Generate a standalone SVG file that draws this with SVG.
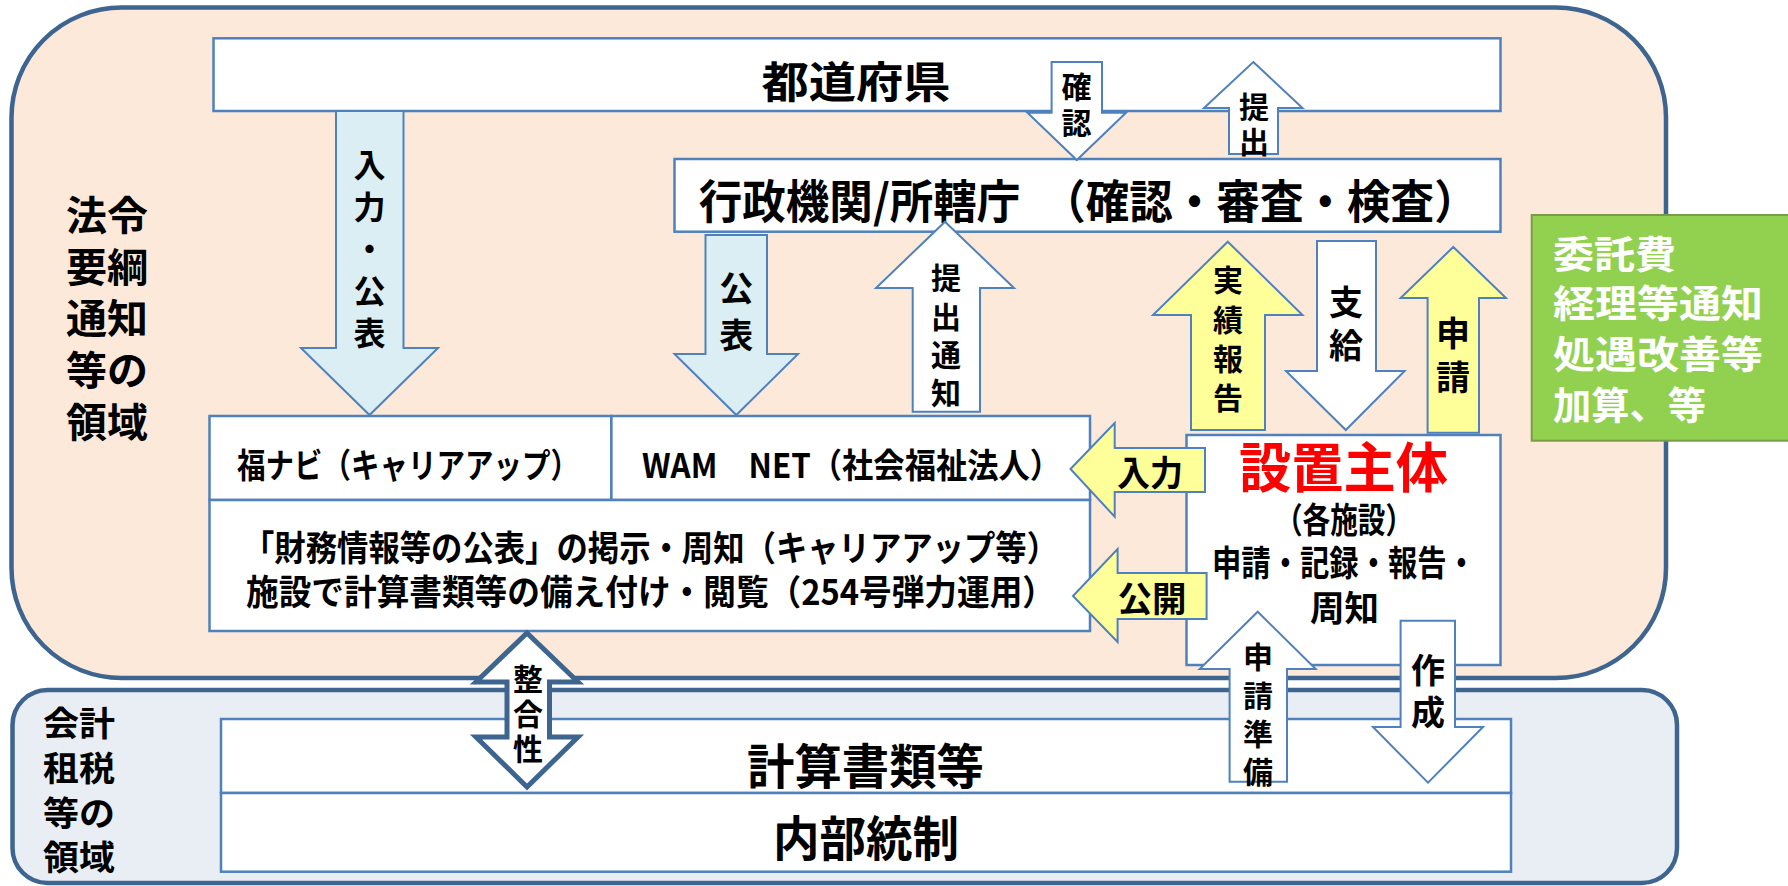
<svg xmlns="http://www.w3.org/2000/svg" width="1788" height="886" viewBox="0 0 1788 886">
<style>
text{font-family:"Noto Sans CJK JP","Noto Sans",sans-serif;font-weight:bold;fill:#000}
.box{fill:#fff;stroke:#4F81BD;stroke-width:2.5}
.panel{stroke:#3E6490;stroke-width:4.5}
.ablue{fill:#DAEEF3;stroke:#4F81BD;stroke-width:2}
.ayel{fill:#FFFF99;stroke:#4F81BD;stroke-width:2}
.awht{fill:#fff;stroke:#4F81BD;stroke-width:2}
.adbl{fill:#fff;stroke:#3E6490;stroke-width:5}
.m{text-anchor:middle}
.v{writing-mode:vertical-rl}
.w{fill:#fff}
.red{fill:#FF0000}
</style>
<rect width="1788" height="886" fill="#fff"/>
<g id="panel-law">
<rect class="panel" x="11.5" y="7.5" width="1654.5" height="670.5" rx="110" fill="#FDE9D9"/>
<text class="m" font-size="40"><tspan x="107" y="230" textLength="82" lengthAdjust="spacingAndGlyphs">法令</tspan><tspan x="107" y="282" textLength="82" lengthAdjust="spacingAndGlyphs">要綱</tspan><tspan x="107" y="333" textLength="82" lengthAdjust="spacingAndGlyphs">通知</tspan><tspan x="107" y="385" textLength="82" lengthAdjust="spacingAndGlyphs">等の</tspan><tspan x="107" y="437" textLength="82" lengthAdjust="spacingAndGlyphs">領域</tspan></text>
</g>
<g id="panel-acct">
<rect class="panel" x="12.5" y="690" width="1664.5" height="193" rx="35" fill="#E8EEF3"/>
<text class="m" font-size="34"><tspan x="79" y="736" textLength="72" lengthAdjust="spacingAndGlyphs">会計</tspan><tspan x="79" y="781" textLength="72" lengthAdjust="spacingAndGlyphs">租税</tspan><tspan x="79" y="826" textLength="72" lengthAdjust="spacingAndGlyphs">等の</tspan><tspan x="79" y="870" textLength="72" lengthAdjust="spacingAndGlyphs">領域</tspan></text>
</g>
<g id="green-note">
<rect x="1531.7" y="215" width="262" height="225.7" fill="#92D050" stroke="#7A9C44" stroke-width="2"/>
<text class="w" font-size="38"><tspan x="1553" y="267.5" textLength="123" lengthAdjust="spacingAndGlyphs">委託費</tspan><tspan x="1553" y="316.5" textLength="210" lengthAdjust="spacingAndGlyphs">経理等通知</tspan><tspan x="1553" y="367.5" textLength="210" lengthAdjust="spacingAndGlyphs">処遇改善等</tspan><tspan x="1553" y="418.5" textLength="153" lengthAdjust="spacingAndGlyphs">加算、等</tspan></text>
</g>
<g id="todofuken">
<rect class="box" x="213.5" y="38.3" width="1287" height="72.7"/>
<text class="m" x="856" y="97.5" font-size="43" textLength="189" lengthAdjust="spacingAndGlyphs">都道府県</text>
</g>
<g id="gyosei">
<rect class="box" x="674.5" y="159" width="826" height="72.7"/>
<text x="698.7" y="218" font-size="46" textLength="779" lengthAdjust="spacingAndGlyphs">行政機関/所轄庁　（確認・審査・検査）</text>
</g>
<g id="fukunavi">
<rect class="box" x="209.5" y="416" width="401.9" height="84"/>
<text x="237" y="477.5" font-size="34" textLength="342" lengthAdjust="spacingAndGlyphs">福ナビ（キャリアアップ）</text>
</g>
<g id="wamnet">
<rect class="box" x="611.4" y="416" width="478.6" height="84"/>
<text x="642" y="477.5" font-size="34" textLength="419" lengthAdjust="spacingAndGlyphs">WAM　NET（社会福祉法人）</text>
</g>
<g id="zaimu">
<rect class="box" x="209.5" y="500" width="880.5" height="131"/>
<text font-size="35"><tspan x="243" y="561" textLength="815" lengthAdjust="spacingAndGlyphs">「財務情報等の公表」の掲示・周知（キャリアアップ等）</tspan><tspan x="246" y="605" textLength="809" lengthAdjust="spacingAndGlyphs">施設で計算書類等の備え付け・閲覧（254号弾力運用）</tspan></text>
</g>
<g id="setchi">
<rect class="box" x="1186.5" y="435" width="314" height="230"/>
<text font-size="35"><tspan class="red" x="1239" y="488" font-size="54" textLength="209" lengthAdjust="spacingAndGlyphs">設置主体</tspan><tspan x="1275" y="533" textLength="138" lengthAdjust="spacingAndGlyphs">（各施設）</tspan><tspan x="1212" y="576" textLength="264" lengthAdjust="spacingAndGlyphs">申請・記録・報告・</tspan><tspan x="1310" y="621" textLength="69" lengthAdjust="spacingAndGlyphs">周知</tspan></text>
</g>
<g id="keisan">
<rect class="box" x="221" y="719" width="1290" height="74"/>
<text x="747" y="784" font-size="48" textLength="237" lengthAdjust="spacingAndGlyphs">計算書類等</text>
</g>
<g id="naibu">
<rect class="box" x="221" y="793" width="1290" height="78.7"/>
<text x="773" y="856" font-size="48" textLength="186" lengthAdjust="spacingAndGlyphs">内部統制</text>
</g>
<g id="connectors">
<polygon class="ablue" points="336,111 403.5,111 403.5,348 438,348 369.5,415 301,348 336,348"/>
<text class="v" x="369.5" y="149" font-size="32" letter-spacing="10">入力・公表</text>
<polygon class="ablue" points="705.5,235 767,235 767,354 798,354 736.3,415 674.5,354 705.5,354"/>
<text class="v" x="736.3" y="271" font-size="34" letter-spacing="13">公表</text>
<polygon class="awht" points="1051.6,62 1102,62 1102,112.7 1126,112.7 1076.8,160 1027.5,112.7 1051.6,112.7"/>
<text class="v" x="1076.5" y="72" font-size="30" letter-spacing="6">確認</text>
<polygon class="awht" points="1253.3,62 1302.5,108 1278,108 1278,154 1229,154 1229,108 1204,108"/>
<text class="v" x="1254" y="92" font-size="30" letter-spacing="5">提出</text>
<polygon class="awht" points="945,221.7 1014,288 980,288 980,411.7 912.7,411.7 912.7,288 876,288"/>
<text class="v" x="946" y="263" font-size="30" letter-spacing="8.3">提出通知</text>
<polygon class="ayel" points="1227.8,241.7 1302.5,315 1265,315 1265,430 1191,430 1191,315 1153,315"/>
<text class="v" x="1228" y="265" font-size="30" letter-spacing="9.3">実績報告</text>
<polygon class="awht" points="1317,241 1376,241 1376,371 1404.6,371 1345.8,430 1286,371 1317,371"/>
<text class="v" x="1346" y="285" font-size="34" letter-spacing="9">支給</text>
<polygon class="ayel" points="1453.3,247 1506,298 1479,298 1479,432.7 1427.6,432.7 1427.6,298 1400.6,298"/>
<text class="v" x="1453" y="316" font-size="34" letter-spacing="10">申請</text>
<polygon class="ayel" points="1070.5,469 1114.7,423 1114.7,448 1205,448 1205,492 1114.7,492 1114.7,516.7"/>
<text class="m" x="1150" y="486" font-size="35" textLength="66" lengthAdjust="spacingAndGlyphs">入力</text>
<polygon class="ayel" points="1073,596 1117.6,549 1117.6,573 1206.6,573 1206.6,619 1117.6,619 1117.6,642"/>
<text class="m" x="1152" y="612" font-size="35" textLength="69" lengthAdjust="spacingAndGlyphs">公開</text>
<polygon class="awht" points="1257.7,611.7 1315.7,669 1287,669 1287,781.7 1229.6,781.7 1229.6,669 1199.7,669"/>
<text class="v" x="1258" y="642" font-size="30" letter-spacing="8.3">申請準備</text>
<polygon class="awht" points="1400.6,620.7 1455,620.7 1455,727 1483,727 1428,782.7 1373,727 1400.6,727"/>
<text class="v" x="1428" y="653" font-size="34" letter-spacing="8">作成</text>
<polygon class="adbl" points="527,633 578,682 549.5,682 549.5,737 578,737 527,787 476,737 507,737 507,682 476,682"/>
<text class="v" x="528" y="664" font-size="30" letter-spacing="5">整合性</text>
</g>
</svg>
